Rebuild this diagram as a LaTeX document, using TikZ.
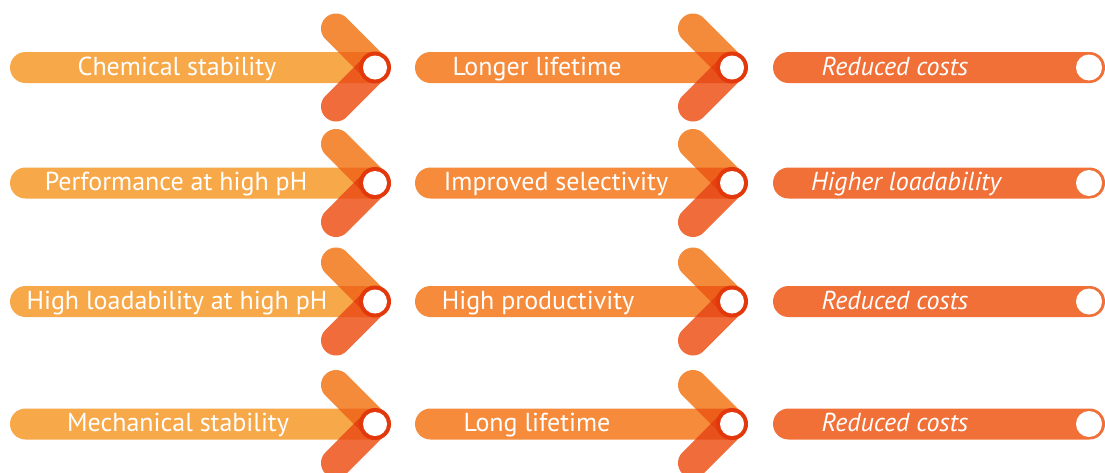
\documentclass[tikz,border=0pt]{standalone}
\usepackage{fontspec}
\setmainfont{PT Sans}
\definecolor{barA}{HTML}{F7A848}
\definecolor{barB}{HTML}{F58B3B}
\definecolor{barC}{HTML}{F07038}
\definecolor{armU}{HTML}{F48B3B}
\definecolor{armL}{HTML}{F06C3A}
\definecolor{ubA}{HTML}{F06E1F}
\definecolor{lbA}{HTML}{EC5A1E}
\definecolor{ubB}{HTML}{EC5E1A}
\definecolor{lbB}{HTML}{E8501C}
\definecolor{armX}{HTML}{E4420E}
\definecolor{ringR}{HTML}{E2380B}
\tikzset{
  armline/.style={line width=30pt, line cap=round},
  txt/.style={text=white, inner sep=0pt, anchor=base, font=\fontsize{26}{26}\selectfont},
  itxt/.style={txt, font=\fontsize{26}{26}\selectfont\itshape},
}
% #1 ring x, #2 row y, #3 bar left, #4 bar colour, #5 upper overlap, #6 lower overlap
\newcommand\chevronunit[6]{%
  \begin{scope}[shift={(#1,#2)}]
    \fill[#4, rounded corners=15.5] (#3-#1,-15.5) rectangle (15.5,15.5);
    \draw[armline, armU] (-39,-39) -- (0,0);
    \draw[armline, armL] (-39,39) -- (0,0);
    \begin{scope}
      \clip[rounded corners=15.5] (#3-#1,-15.5) rectangle (15.5,15.5);
      \draw[armline, #5] (-39,-39) -- (0,0);
      \draw[armline, #6] (-39,39) -- (0,0);
    \end{scope}
    \begin{scope}
      \clip (-28.39,-49.61) -- (10.607,-10.607) -- (-10.607,10.607) -- (-49.61,-28.39) -- cycle;
      \draw[armline, armX] (-39,39) -- (0,0);
    \end{scope}
    \fill[ringR] (0,0) circle (16);
    \fill[white] (0,0) circle (12);
  \end{scope}}
\newcommand\finalbar[1]{%
  \fill[barC, rounded corners=15.5] (773,#1-15.5) rectangle (1105,#1+15.5);
  \fill[white] (1089,#1) circle (13);}
\begin{document}
\begin{tikzpicture}[x=1pt,y=-1pt]
\useasboundingbox (0,0) rectangle (1105,472);
\chevronunit{375}{67.5}{10}{barA}{ubA}{lbA}
\chevronunit{732}{67.5}{415}{barB}{ubB}{lbB}
\finalbar{67.5}
\chevronunit{375}{183}{10}{barA}{ubA}{lbA}
\chevronunit{732}{183}{415}{barB}{ubB}{lbB}
\finalbar{183}
\chevronunit{375}{301.5}{10}{barA}{ubA}{lbA}
\chevronunit{732}{301.5}{415}{barB}{ubB}{lbB}
\finalbar{301.5}
\chevronunit{375}{424}{10}{barA}{ubA}{lbA}
\chevronunit{732}{424}{415}{barB}{ubB}{lbB}
\finalbar{424}
\node[txt] (a1) at (177,75) {Chemical stability};
\node[txt] (b1) at (537,75) {Longer lifetime};
\node[itxt] (c1) at (895,75) {Reduced costs};
\node[txt] (a2) at (176,190.5) {Performance at high pH};
\node[txt] (b2) at (556,190.5) {Improved selectivity};
\node[itxt] (c2) at (906,190.5) {Higher loadability};
\node[txt] (a3) at (177,309) {High loadability at high pH};
\node[txt] (b3) at (538,309) {High productivity};
\node[itxt] (c3) at (895,309) {Reduced costs};
\node[txt] (a4) at (178,431.5) {Mechanical stability};
\node[txt] (b4) at (537,431.5) {Long lifetime};
\node[itxt] (c4) at (895,431.5) {Reduced costs};
\end{tikzpicture}
\end{document}
